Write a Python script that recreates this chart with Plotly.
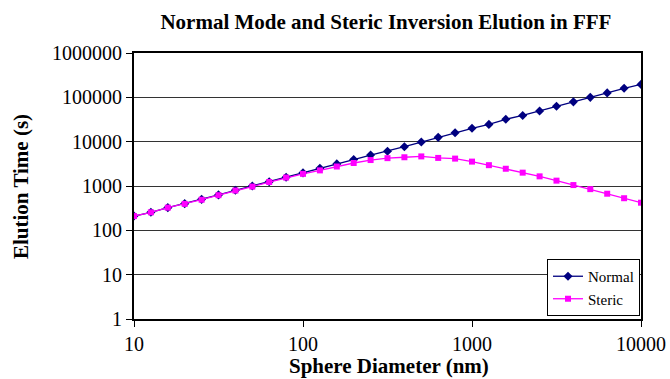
import plotly.graph_objects as go

diameter_nm = [10, 12.59, 15.85, 19.95, 25.12, 31.62, 39.81, 50.12, 63.1, 79.43,
               100, 125.9, 158.5, 199.5, 251.2, 316.2, 398.1, 501.2, 631, 794.3,
               1000, 1259, 1585, 1995, 2512, 3162, 3981, 5012, 6310, 7943, 10000]
normal_s = [210, 255, 325, 400, 500, 630, 800, 1000, 1250, 1580,
            1980, 2500, 3150, 3950, 5000, 6100, 7700, 9800, 12500, 15900,
            20000, 24500, 32000, 39000, 49000, 63000, 79000, 100000, 126000, 160000, 196000]
steric_s = [210, 255, 325, 395, 490, 620, 790, 970, 1230, 1550,
            1880, 2250, 2750, 3300, 3850, 4250, 4450, 4650, 4300, 4150,
            3550, 2950, 2450, 2000, 1650, 1320, 1050, 850, 670, 530, 420]

y_ticks = [1, 10, 100, 1000, 10000, 100000, 1000000]
x_ticks = [10, 100, 1000, 10000]

FONT = "Liberation Serif"

fig = go.Figure()
fig.add_trace(go.Scatter(x=diameter_nm, y=normal_s, name="Normal", mode="lines+markers",
                         line=dict(color="#000080", width=1.3),
                         marker=dict(symbol="diamond", size=7, color="#000080")))
fig.add_trace(go.Scatter(x=diameter_nm, y=steric_s, name="Steric", mode="lines+markers",
                         line=dict(color="#FF00FF", width=1.3),
                         marker=dict(symbol="square", size=6, color="#FF00FF")))

fig.update_layout(
    width=670, height=379,
    margin=dict(l=134, r=29, t=53, b=60),
    paper_bgcolor="white", plot_bgcolor="white",
    font=dict(family=FONT, color="black", size=19),
    title=dict(text="<b>Normal Mode and Steric Inversion Elution in FFF</b>",
               x=0.576, xanchor="center", y=0.942, yanchor="middle",
               font=dict(size=21, family=FONT)),
    showlegend=True,
    legend=dict(x=0.8146, y=0.2256, xanchor="left", yanchor="top",
                bordercolor="black", borderwidth=1, bgcolor="white",
                font=dict(size=15, family=FONT, color="black"), tracegroupgap=0,
                itemwidth=30),
    annotations=[
        dict(text="<b>Sphere Diameter (nm)</b>", xref="paper", yref="paper",
             x=0.502, y=-0.175, xanchor="center", yanchor="middle", showarrow=False,
             font=dict(size=21, family=FONT, color="black")),
        dict(text="<b>Elution Time (s)</b>", xref="paper", yref="paper",
             x=-0.2229, y=0.5, xanchor="center", yanchor="middle", showarrow=False,
             textangle=-90, font=dict(size=21, family=FONT, color="black")),
    ],
)
fig.update_xaxes(type="log", range=[1, 4], tickvals=x_ticks,
                 ticktext=[str(v) for v in x_ticks], automargin=False,
                 showgrid=False, showline=True, linecolor="black", linewidth=2,
                 mirror=True, ticks="outside", ticklen=6, tickcolor="black",
                 tickfont=dict(size=20))
fig.update_yaxes(type="log", range=[0, 6], tickvals=y_ticks,
                 ticktext=[str(v) for v in y_ticks], automargin=False,
                 showgrid=True, gridcolor="#333333", gridwidth=1,
                 showline=True, linecolor="black", linewidth=2,
                 mirror=True, ticks="outside", ticklen=6, tickcolor="black",
                 tickfont=dict(size=20))

fig.write_html("out.html")
